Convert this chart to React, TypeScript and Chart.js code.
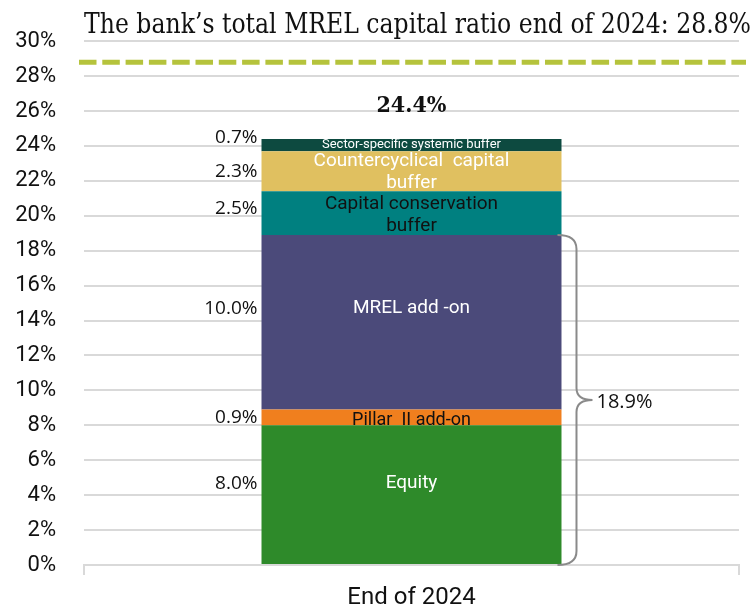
import React, { useEffect, useRef } from "react";
import { Chart, registerables } from "chart.js";

Chart.register(...registerables);

// ---------- data ----------
const categories = ["End of 2024"];
const segmentNames = [
  "Equity",
  "Pillar II add-on",
  "MREL add-on",
  "Capital conservation buffer",
  "Countercyclical capital buffer",
  "Sector-specific systemic buffer",
];
const segmentLines = [
  ["Equity"],
  ["Pillar  II add-on"],
  ["MREL add -on"],
  ["Capital conservation", "buffer"],
  ["Countercyclical  capital", "buffer"],
  ["Sector-specific systemic buffer"],
];
const segmentValues = [8.0, 0.9, 10.0, 2.5, 2.3, 0.7];
const segmentValueLabels = ["8.0%", "0.9%", "10.0%", "2.5%", "2.3%", "0.7%"];
const totalLabel = "24.4%";
const bracketValue = 18.9; // Equity + Pillar II + MREL add-on
const bracketLabel = "18.9%";
const mrelTotalRatio = 28.8;
const titleText = "The bank\u2019s total MREL capital ratio end of 2024: 28.8%";
const yMin = 0;
const yMax = 30;
const yStep = 2;

// ---------- styles ----------
const segmentColors = ["#2E8A2A", "#F07F1E", "#4B4A7A", "#008080", "#E0C060", "#0D4A40"];
const segmentTextColors = ["#FFFFFF", "#111111", "#FFFFFF", "#111111", "#FFFFFF", "#FFFFFF"];
const segmentTextSizes = [19, 18, 19, 19, 19, 13];
const leftLabelNudge = [-11, 0, -14, -5, 0, -7];
const innerLabelNudge = [-11, 3, -14, 2, 1, 0];

const overlayPlugin = {
  id: "overlay",
  afterDraw(chart: any) {
    const ctx = chart.ctx as CanvasRenderingContext2D;
    const ys = chart.scales.y;
    const area = chart.chartArea;

    // dashed MREL line
    ctx.save();
    ctx.strokeStyle = "#B5C33C";
    ctx.lineWidth = 5;
    ctx.setLineDash([17.5, 5.8]);
    const yl = ys.getPixelForValue(mrelTotalRatio);
    ctx.beginPath();
    ctx.moveTo(area.left - 5, yl);
    ctx.lineTo(area.right + 7, yl);
    ctx.stroke();
    ctx.restore();

    // title
    ctx.save();
    ctx.font = "28px 'DejaVu Serif Condensed', 'DejaVu Serif', serif";
    ctx.fillStyle = "#111111";
    ctx.textBaseline = "alphabetic";
    ctx.textAlign = "left";
    const tw = ctx.measureText(titleText).width;
    const target = 667;
    ctx.translate(area.left, 33);
    ctx.scale(target / tw, 1);
    ctx.fillText(titleText, 0, 0);
    ctx.restore();

    // segment labels
    let barRight = 0;
    let barTop = 0;
    chart.data.datasets.forEach((ds: any, i: number) => {
      const el = chart.getDatasetMeta(i).data[0];
      if (!el) return;
      const p = el.getProps(["x", "y", "base", "width"], true);
      const cy = (p.y + p.base) / 2;
      const left = p.x - p.width / 2;
      barRight = p.x + p.width / 2;
      barTop = Math.min(p.y, p.base);
      // left value label
      ctx.save();
      ctx.font = "19px 'Open Sans', sans-serif";
      ctx.fillStyle = "#111111";
      ctx.textAlign = "right";
      ctx.textBaseline = "middle";
      ctx.fillText(segmentValueLabels[i], left - 4, cy + leftLabelNudge[i]);
      ctx.restore();
      // inner label
      ctx.save();
      const fs = segmentTextSizes[i];
      ctx.font = `${fs}px Roboto, sans-serif`;
      ctx.fillStyle = segmentTextColors[i];
      ctx.textAlign = "center";
      ctx.textBaseline = "middle";
      const lines = segmentLines[i];
      const lh = fs * 1.2;
      const startY = cy + innerLabelNudge[i] - ((lines.length - 1) * lh) / 2;
      lines.forEach((t, k) => ctx.fillText(t, p.x, startY + k * lh));
      ctx.restore();
    });

    // total label
    ctx.save();
    ctx.font = "bold 23px 'DejaVu Serif Condensed', 'DejaVu Serif', serif";
    ctx.fillStyle = "#111111";
    ctx.textAlign = "center";
    ctx.textBaseline = "middle";
    ctx.fillText(totalLabel, chart.getDatasetMeta(0).data[0].x, barTop - 33);
    ctx.restore();

    // brace
    const yTop = ys.getPixelForValue(bracketValue);
    const yBot = ys.getPixelForValue(0);
    const yMid = (yTop + yBot) / 2;
    const xs = barRight - 4;
    const xv = barRight + 15;
    const xp = barRight + 31;
    const r = 14;
    ctx.save();
    ctx.strokeStyle = "#8A8A8A";
    ctx.lineWidth = 2;
    ctx.beginPath();
    ctx.moveTo(xs, yTop);
    ctx.quadraticCurveTo(xv, yTop, xv, yTop + r);
    ctx.lineTo(xv, yMid - 12);
    ctx.quadraticCurveTo(xv, yMid, xp, yMid);
    ctx.quadraticCurveTo(xv, yMid, xv, yMid + 12);
    ctx.lineTo(xv, yBot - r);
    ctx.quadraticCurveTo(xv, yBot, xs, yBot);
    ctx.stroke();
    ctx.font = "20px 'Open Sans', sans-serif";
    ctx.fillStyle = "#111111";
    ctx.textAlign = "left";
    ctx.textBaseline = "middle";
    ctx.fillText(bracketLabel, xp + 4, yMid + 2);
    ctx.restore();
  },
};

export default function App() {
  const canvasRef = useRef<HTMLCanvasElement | null>(null);

  useEffect(() => {
    document.body.style.margin = "0";
    const canvas = canvasRef.current;
    if (!canvas) return;
    const chart = new Chart(canvas, {
      type: "bar",
      data: {
        labels: categories,
        datasets: segmentValues.map((v, i) => ({
          label: segmentNames[i],
          data: [v],
          backgroundColor: segmentColors[i],
          borderWidth: 0,
          barPercentage: 1,
          categoryPercentage: 0.458,
        })),
      },
      options: {
        responsive: false,
        animation: false,
        devicePixelRatio: 1,
        layout: { padding: { top: 39, right: 14, bottom: 0, left: 0 } },
        plugins: {
          legend: { display: false },
          tooltip: { enabled: false },
          title: { display: false },
        },
        scales: {
          x: {
            stacked: true,
            grid: {
              display: true,
              drawOnChartArea: false,
              drawTicks: true,
              tickLength: 10,
              color: "#D9D9D9",
              lineWidth: 2,
            },
            border: { display: true, color: "#D9D9D9", width: 2 },
            ticks: {
              color: "#111111",
              font: { family: "Roboto, sans-serif", size: 24 },
              padding: 9,
            },
            afterFit: (s: any) => {
              s.height = 46;
            },
          },
          y: {
            stacked: true,
            min: yMin,
            max: yMax,
            grid: { color: "#D9D9D9", lineWidth: 2, drawTicks: false },
            border: { display: false },
            ticks: {
              stepSize: yStep,
              color: "#111111",
              padding: 28,
              font: { family: "Roboto, sans-serif", size: 22 },
              callback: (v: any) => `${v}%`,
            },
            afterFit: (s: any) => {
              s.width = 84;
            },
          },
        },
      },
      plugins: [overlayPlugin],
    });
    return () => chart.destroy();
  }, []);

  return (
    <div style={{ width: 753, height: 611, position: "relative", background: "#FFFFFF" }}>
      <canvas ref={canvasRef} width={753} height={611} style={{ display: "block" }} />
    </div>
  );
}
